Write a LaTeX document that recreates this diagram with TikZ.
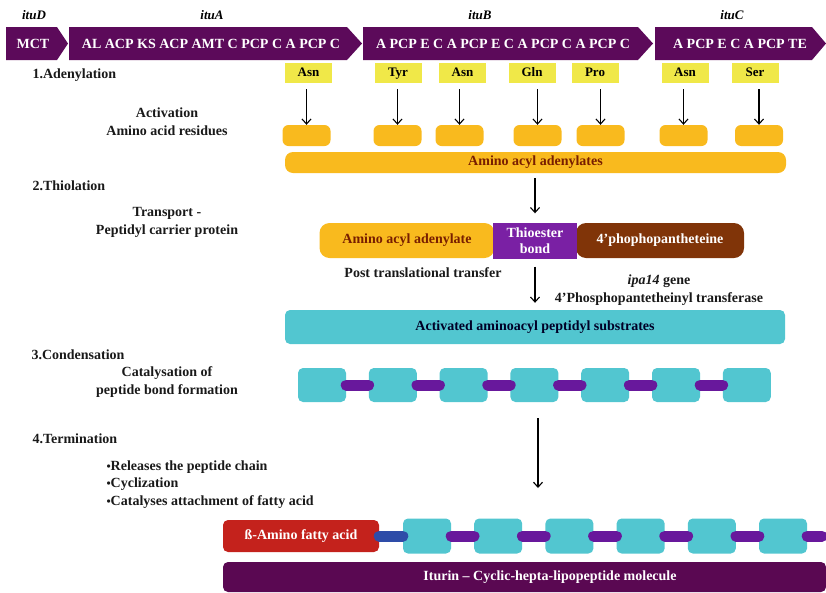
\documentclass[tikz,border=0pt]{standalone}
\usepackage{fontspec}
\setmainfont{Liberation Serif}
\usetikzlibrary{arrows,arrows.meta,positioning,calc}

\definecolor{gene}{RGB}{92,10,90}
\definecolor{aayellow}{RGB}{240,232,72}
\definecolor{aaorange}{RGB}{249,186,30}
\definecolor{adtext}{RGB}{120,30,0}
\definecolor{thiopurple}{RGB}{122,32,164}
\definecolor{ppbrown}{RGB}{128,52,8}
\definecolor{pepteal}{RGB}{82,198,208}
\definecolor{linkpurple}{RGB}{104,24,156}
\definecolor{linkblue}{RGB}{46,76,168}
\definecolor{fattyred}{RGB}{196,34,28}
\definecolor{molpurple}{RGB}{90,8,82}

\newcommand\bul{{\fontsize{12}{12}\selectfont\textbullet}}

\tikzset{
  lbl/.style={font=\bfseries\fontsize{14}{18}\selectfont,align=center,text=black!90},
  genelbl/.style={font=\bfseries\itshape\fontsize{13}{15}\selectfont},
  genetext/.style={text=white,font=\bfseries\fontsize{14}{16}\selectfont},
  aabox/.style={fill=aayellow,minimum width=47pt,minimum height=20pt,inner sep=0pt,
    text height=9pt,text depth=3pt,font=\bfseries\fontsize{13}{15}\selectfont},
  resbox/.style={fill=aaorange,rounded corners=6pt,minimum width=48pt,minimum height=21pt},
  unit/.style={fill=pepteal,rounded corners=5pt,minimum width=48pt,minimum height=34pt,inner sep=0pt},
  link/.style={line width=11pt,line cap=round,draw=linkpurple},
  flow/.style={-{Straight Barb[length=5pt,width=9pt]},line width=1.1pt},
}

\begin{document}
\begin{tikzpicture}[x=1pt,y=-1pt]
\useasboundingbox (0,0) rectangle (826,592);

% genes
\fill[gene] (6,27) -- (57,27) -- (68,43.5) -- (57,60) -- (6,60) -- cycle;
\fill[gene] (69,27) -- (347,27) -- (362,43.5) -- (347,60) -- (69,60) -- cycle;
\fill[gene] (363,27) -- (638,27) -- (653,43.5) -- (638,60) -- (363,60) -- cycle;
\fill[gene] (655,27) -- (812,27) -- (826,43.5) -- (812,60) -- (655,60) -- cycle;
\node[genelbl] (ituD) at (34,15) {ituD};
\node[genelbl] (ituA) at (212,15) {ituA};
\node[genelbl] (ituB) at (480,15) {ituB};
\node[genelbl] (ituC) at (732,15) {ituC};
\node[genetext] (mct) at (33,43.5) {MCT};
\node[genetext] (modA) at (211,43.5) {AL ACP KS ACP AMT C PCP C A PCP C};
\node[genetext] (modB) at (503,43.5) {A PCP E C A PCP E C A PCP C A PCP C};
\node[genetext] (modC) at (740,43.5) {A PCP E C A PCP TE};

% 1. adenylation
\node[lbl,anchor=west] (step1) at (29,75) {1.Adenylation};
\node[lbl] (activ) at (167,122) {Activation\\Amino acid residues};
\foreach \x/\aa [count=\i] in {308.5/Asn,398/Tyr,462.5/Asn,532/Gln,595/Pro,685/Asn,755/Ser}
  \node[aabox] (aa\i) at (\x,73) {\aa};
\foreach \x [count=\i] in {306.5,397.5,459.5,537.5,600.5,683.5,759}
  \node[resbox] (res\i) at (\x,135.5) {};
\foreach \i in {1,...,7}
  \draw[flow,shorten <=6pt] (res\i.north |- aa\i.south) -- (res\i.north);
\node[fill=aaorange,rounded corners=8pt,minimum width=501pt,minimum height=21pt,inner sep=0pt,
  font=\bfseries\fontsize{14}{16}\selectfont,text=adtext] (adenylates) at (535.5,162.5) {Amino acyl adenylates};

% 2. thiolation
\node[lbl,anchor=west] (step2) at (29,186) {2.Thiolation};
\node[lbl] (transp) at (167,222.5) {Transport -\\Peptidyl carrier protein};
\node[fill=aaorange,rounded corners=10pt,minimum width=175pt,minimum height=35pt,inner sep=0pt,
  font=\bfseries\fontsize{14}{16}\selectfont,text=adtext] (acyl) at (407,240.5) {Amino acyl adenylate};
\node[fill=ppbrown,rounded corners=10pt,minimum width=168pt,minimum height=35pt,inner sep=0pt,
  font=\bfseries\fontsize{14}{16}\selectfont,text=white] (ppant) at (660,240.5) {4’phophopantheteine};
\node[fill=thiopurple,minimum width=84pt,minimum height=36pt,inner sep=0pt,align=center,
  font=\bfseries\fontsize{14}{16}\selectfont,text=white] (thio) at (535,240.5) {Thioester\\bond};
\draw[flow,shorten <=5pt,shorten >=9pt] (adenylates.south -| thio.north) -- (thio.north);
\node[lbl] (ptt) at (423,273) {Post translational transfer};
\node[lbl] (ipa) at (659,290.5) {\textit{ipa14} gene\\4’Phosphopantetheinyl transferase};
\node[fill=pepteal,rounded corners=5pt,minimum width=500pt,minimum height=34pt,inner sep=0pt,
  font=\bfseries\fontsize{14}{16}\selectfont,text=black!85!blue] (substr) at (535,327) {Activated  aminoacyl  peptidyl substrates};
\draw[flow,shorten <=8pt,shorten >=7pt] (thio.south) -- (thio.south |- substr.north);

% 3. condensation
\node[lbl,anchor=west] (step3) at (28,355) {3.Condensation};
\node[lbl] (catal) at (167,382.5) {Catalysation of\\peptide bond formation};
\foreach \i in {0,...,6}
  \node[unit] (c\i) at (322+70.8*\i,385) {};
\foreach \i [count=\j from 1] in {0,...,5}
  \draw[link] (c\i.east) -- (c\j.west);
\coordinate (endterm) at (538,488);
\draw[flow,shorten <=16pt] (c3.south -| endterm) -- (endterm);

% 4. termination
\node[lbl,anchor=west] (step4) at (29,439) {4.Termination};
\node[lbl,anchor=west,align=left,font=\bfseries\fontsize{14}{17.5}\selectfont] (termtxt) at (103,484.5)
  {\bul Releases the peptide chain\\\bul Cyclization\\\bul Catalyses attachment of fatty acid};
\node[fill=fattyred,rounded corners=5pt,minimum width=156pt,minimum height=32pt,inner sep=0pt,
  font=\bfseries\fontsize{14}{16}\selectfont,text=white] (fatty) at (301,536) {ß-Amino  fatty acid};
\foreach \i in {1,...,6}
  \node[unit,minimum height=35pt] (d\i) at (427+71.2*\i-71.2,536) {};
\draw[link,draw=linkblue] (fatty.east) -- (d1.west);
\foreach \i [count=\j from 2] in {1,...,5}
  \draw[link] (d\i.east) -- (d\j.west);
\coordinate (chainend) at (822,536);
\draw[link] (d6.east) -- (chainend);
\fill[molpurple,rounded corners=5pt] (223,592) -- (223,562) -- (826,562) -- (826,592) -- cycle;
\node[font=\bfseries\fontsize{14}{16}\selectfont,text=white] (iturin) at (550,577) {Iturin – Cyclic-hepta-lipopeptide  molecule};
\end{tikzpicture}
\end{document}
